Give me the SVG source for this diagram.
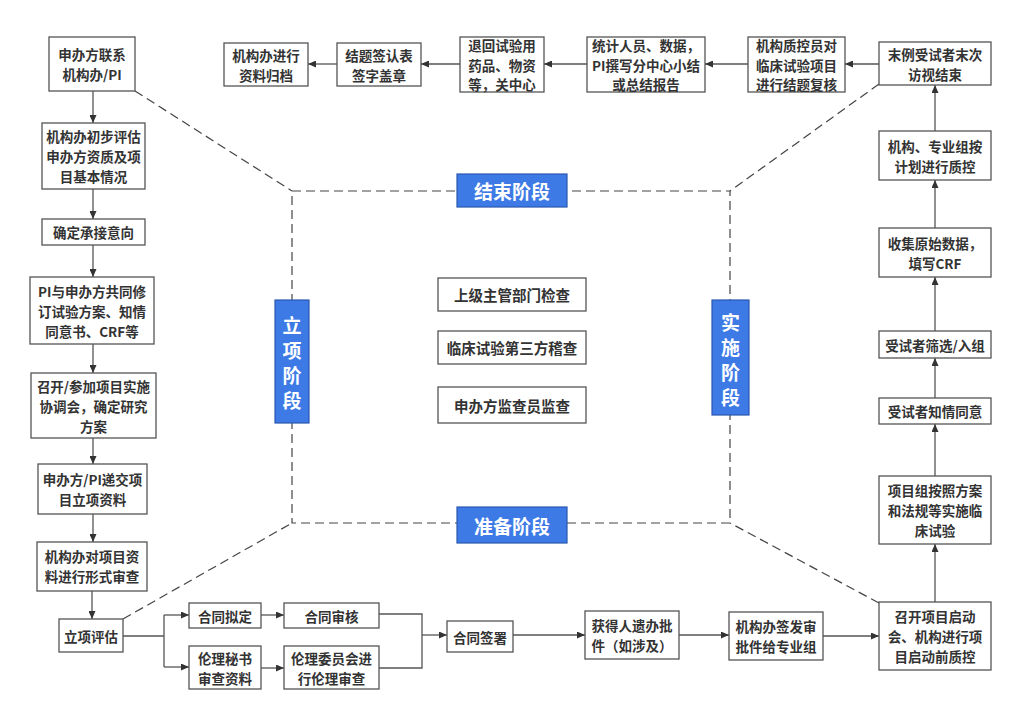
<svg xmlns="http://www.w3.org/2000/svg" width="1024" height="724" viewBox="0 0 1024 724">
<style>
.b{fill:#fff;stroke:#555;stroke-width:1.3}
.t{font-family:"Noto Sans CJK SC","Microsoft YaHei",sans-serif;font-weight:bold;font-size:13.5px;fill:#333;text-anchor:middle;dominant-baseline:central}
.ct{font-size:14.5px}
.ph{fill:#3d7ae6;stroke:#2a58b0;stroke-width:1.2}
.pt{font-family:"Noto Sans CJK SC",sans-serif;font-weight:bold;font-size:19px;fill:#fff;text-anchor:middle;dominant-baseline:central}
.c{fill:none;stroke:#555;stroke-width:1.3}
.d{fill:none;stroke:#444;stroke-width:1.2;stroke-dasharray:9 5}
</style>
<defs>
<marker id="a" markerUnits="userSpaceOnUse" markerWidth="8" markerHeight="7" refX="8" refY="3.5" orient="auto"><path d="M0,0 L8,3.5 L0,7 z" fill="#333"/></marker>
</defs>
<rect width="1024" height="724" fill="#fff"/>

<g id="frame">
<rect class="d" x="292" y="191" width="438" height="332"/>
<line class="d" x1="135" y1="91" x2="292" y2="191"/>
<line class="d" x1="123" y1="619" x2="292" y2="523"/>
<line class="d" x1="879" y1="84" x2="730" y2="191"/>
<line class="d" x1="879" y1="603" x2="730" y2="523"/>
</g>

<g id="connectors">
<line class="c" x1="93" y1="91" x2="93" y2="123" marker-end="url(#a)"/>
<line class="c" x1="93" y1="189" x2="93" y2="219" marker-end="url(#a)"/>
<line class="c" x1="93" y1="245" x2="93" y2="277" marker-end="url(#a)"/>
<line class="c" x1="93" y1="344" x2="93" y2="373" marker-end="url(#a)"/>
<line class="c" x1="93" y1="438" x2="93" y2="464" marker-end="url(#a)"/>
<line class="c" x1="93" y1="514" x2="93" y2="542" marker-end="url(#a)"/>
<line class="c" x1="92" y1="591" x2="92" y2="619" marker-end="url(#a)"/>
<polyline class="c" points="123,636 164,636"/>
<polyline class="c" points="164,615 164,667"/>
<line class="c" x1="164" y1="615" x2="189" y2="615" marker-end="url(#a)"/>
<line class="c" x1="164" y1="667" x2="189" y2="667" marker-end="url(#a)"/>
<line class="c" x1="261" y1="615" x2="284" y2="615" marker-end="url(#a)"/>
<line class="c" x1="261" y1="668" x2="284" y2="668" marker-end="url(#a)"/>
<polyline class="c" points="379,614 422,614 422,668 379,668"/>
<line class="c" x1="422" y1="635" x2="447" y2="635" marker-end="url(#a)"/>
<line class="c" x1="513" y1="635" x2="585" y2="635" marker-end="url(#a)"/>
<line class="c" x1="679" y1="635" x2="729" y2="635" marker-end="url(#a)"/>
<line class="c" x1="823" y1="636" x2="879" y2="636" marker-end="url(#a)"/>
<line class="c" x1="935" y1="602" x2="935" y2="544" marker-end="url(#a)"/>
<line class="c" x1="935" y1="476" x2="935" y2="424" marker-end="url(#a)"/>
<line class="c" x1="935" y1="398" x2="935" y2="358" marker-end="url(#a)"/>
<line class="c" x1="935" y1="331" x2="935" y2="277" marker-end="url(#a)"/>
<line class="c" x1="935" y1="228" x2="935" y2="180" marker-end="url(#a)"/>
<line class="c" x1="935" y1="131" x2="935" y2="85" marker-end="url(#a)"/>
<line class="c" x1="879" y1="64" x2="845" y2="64" marker-end="url(#a)"/>
<line class="c" x1="748" y1="64" x2="705" y2="64" marker-end="url(#a)"/>
<line class="c" x1="587" y1="64" x2="544" y2="64" marker-end="url(#a)"/>
<line class="c" x1="460" y1="64" x2="421" y2="64" marker-end="url(#a)"/>
<line class="c" x1="337" y1="64" x2="308" y2="64" marker-end="url(#a)"/>
</g>

<g id="n1"><rect class="b" x="49" y="37" width="86" height="54"/><text class="t" x="92" y="54">申办方联系</text><text class="t" x="92" y="74">机构办/PI</text></g>
<g id="n2"><rect class="b" x="42" y="123" width="103" height="66"/><text class="t" x="93.5" y="136">机构办初步评估</text><text class="t" x="93.5" y="156">申办方资质及项</text><text class="t" x="93.5" y="176">目基本情况</text></g>
<g id="n3"><rect class="b" x="42" y="219" width="103" height="26"/><text class="t" x="93.5" y="232">确定承接意向</text></g>
<g id="n4"><rect class="b" x="30" y="277" width="124" height="67"/><text class="t" x="92" y="291">PI与申办方共同修</text><text class="t" x="92" y="311">订试验方案、知情</text><text class="t" x="92" y="331">同意书、CRF等</text></g>
<g id="n5"><rect class="b" x="31" y="373" width="125" height="65"/><text class="t" x="93.5" y="386">召开/参加项目实施</text><text class="t" x="93.5" y="406">协调会，确定研究</text><text class="t" x="93.5" y="426">方案</text></g>
<g id="n6"><rect class="b" x="38" y="464" width="109" height="50"/><text class="t" x="92.5" y="479">申办方/PI递交项</text><text class="t" x="92.5" y="499">目立项资料</text></g>
<g id="n7"><rect class="b" x="37" y="542" width="110" height="49"/><text class="t" x="92" y="556">机构办对项目资</text><text class="t" x="92" y="576">料进行形式审查</text></g>
<g id="n8"><rect class="b" x="59" y="619" width="64" height="33"/><text class="t" x="91" y="635.5">立项评估</text></g>

<g id="n9"><rect class="b" x="189" y="603" width="72" height="25"/><text class="t" x="225" y="615.5">合同拟定</text></g>
<g id="n10"><rect class="b" x="284" y="603" width="95" height="25"/><text class="t" x="331.5" y="615.5">合同审核</text></g>
<g id="n11"><rect class="b" x="189" y="646" width="72" height="43"/><text class="t" x="225" y="658">伦理秘书</text><text class="t" x="225" y="678">审查资料</text></g>
<g id="n12"><rect class="b" x="284" y="646" width="95" height="43"/><text class="t" x="331.5" y="658">伦理委员会进</text><text class="t" x="331.5" y="678">行伦理审查</text></g>
<g id="n13"><rect class="b" x="447" y="621" width="66" height="31"/><text class="t" x="480" y="636.5">合同签署</text></g>
<g id="n14"><rect class="b" x="585" y="611" width="94" height="48"/><text class="t" x="632" y="625">获得人遗办批</text><text class="t" x="632" y="645">件（如涉及）</text></g>
<g id="n15"><rect class="b" x="729" y="612" width="94" height="48"/><text class="t" x="776" y="626">机构办签发审</text><text class="t" x="776" y="646">批件给专业组</text></g>
<g id="n16"><rect class="b" x="879" y="602" width="112" height="68"/><text class="t" x="935" y="616">召开项目启动</text><text class="t" x="935" y="636">会、机构进行项</text><text class="t" x="935" y="656">目启动前质控</text></g>

<g id="n17"><rect class="b" x="879" y="476" width="112" height="68"/><text class="t" x="935" y="490">项目组按照方案</text><text class="t" x="935" y="510">和法规等实施临</text><text class="t" x="935" y="530">床试验</text></g>
<g id="n18"><rect class="b" x="879" y="398" width="112" height="26"/><text class="t" x="935" y="411">受试者知情同意</text></g>
<g id="n19"><rect class="b" x="879" y="331" width="112" height="27"/><text class="t" x="935" y="344.5">受试者筛选/入组</text></g>
<g id="n20"><rect class="b" x="879" y="228" width="112" height="49"/><text class="t" x="935" y="242.5">收集原始数据，</text><text class="t" x="935" y="262.5">填写CRF</text></g>
<g id="n21"><rect class="b" x="879" y="131" width="112" height="49"/><text class="t" x="935" y="145.5">机构、专业组按</text><text class="t" x="935" y="165.5">计划进行质控</text></g>
<g id="n22"><rect class="b" x="879" y="42" width="112" height="43"/><text class="t" x="935" y="53.5">末例受试者末次</text><text class="t" x="935" y="73.5">访视结束</text></g>

<g id="n23"><rect class="b" x="748" y="37" width="97" height="55"/><text class="t" x="796.5" y="45">机构质控员对</text><text class="t" x="796.5" y="64.5">临床试验项目</text><text class="t" x="796.5" y="84">进行结题复核</text></g>
<g id="n24"><rect class="b" x="587" y="37" width="118" height="55"/><text class="t" x="646" y="45">统计人员、数据，</text><text class="t" x="646" y="64.5">PI撰写分中心小结</text><text class="t" x="646" y="84">或总结报告</text></g>
<g id="n25"><rect class="b" x="460" y="37" width="84" height="55"/><text class="t" x="502" y="45">退回试验用</text><text class="t" x="502" y="64.5">药品、物资</text><text class="t" x="502" y="84">等，关中心</text></g>
<g id="n26"><rect class="b" x="337" y="43" width="84" height="43"/><text class="t" x="379" y="54.5">结题签认表</text><text class="t" x="379" y="74.5">签字盖章</text></g>
<g id="n27"><rect class="b" x="224" y="43" width="84" height="43"/><text class="t" x="266" y="54.5">机构办进行</text><text class="t" x="266" y="74.5">资料归档</text></g>

<g id="p1"><rect class="ph" x="457" y="174" width="110" height="33"/><text class="pt" x="512" y="190.5">结束阶段</text></g>
<g id="p2"><rect class="ph" x="457" y="507" width="110" height="36"/><text class="pt" x="512" y="525">准备阶段</text></g>
<g id="p3"><rect class="ph" x="275" y="300" width="34" height="123"/><text class="pt" x="292" y="324">立</text><text class="pt" x="292" y="349">项</text><text class="pt" x="292" y="374">阶</text><text class="pt" x="292" y="399">段</text></g>
<g id="p4"><rect class="ph" x="712" y="300" width="37" height="115"/><text class="pt" x="730.5" y="321">实</text><text class="pt" x="730.5" y="346">施</text><text class="pt" x="730.5" y="371">阶</text><text class="pt" x="730.5" y="396">段</text></g>

<g id="c1"><rect class="b" x="438" y="278" width="148" height="33"/><text class="t ct" x="512" y="294.5">上级主管部门检查</text></g>
<g id="c2"><rect class="b" x="438" y="331" width="148" height="33"/><text class="t ct" x="512" y="347.5">临床试验第三方稽查</text></g>
<g id="c3"><rect class="b" x="438" y="387" width="148" height="36"/><text class="t ct" x="512" y="405">申办方监查员监查</text></g>
</svg>
